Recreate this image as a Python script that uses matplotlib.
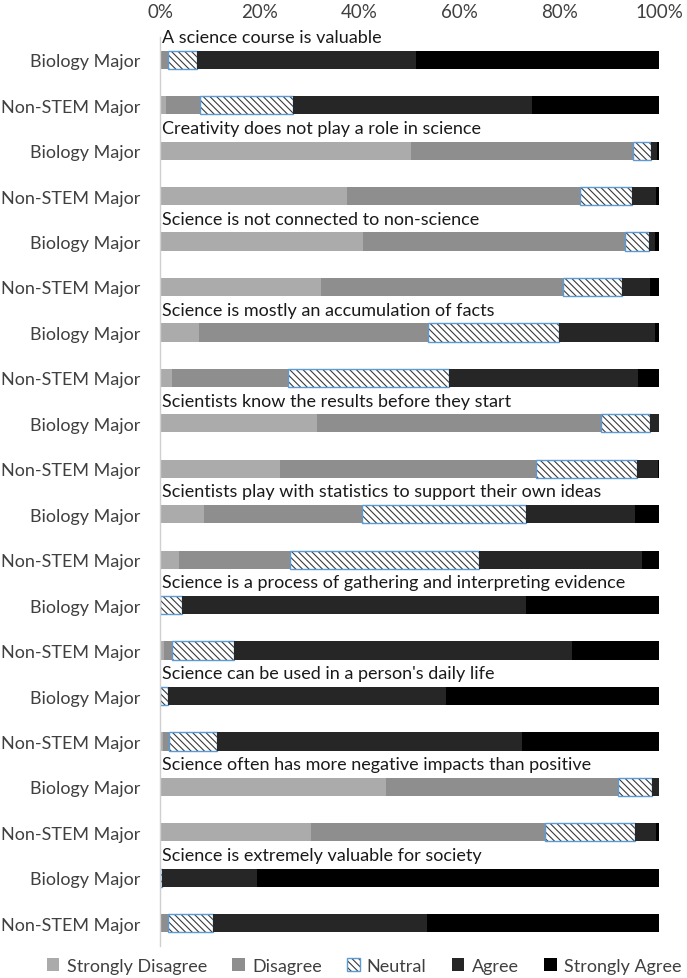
import matplotlib
matplotlib.use("Agg")
import matplotlib.pyplot as plt
from matplotlib.legend_handler import HandlerTuple
import numpy as np

plt.rcParams['font.family'] = ['Lato', 'DejaVu Sans']
plt.rcParams['hatch.linewidth'] = 0.8

# statements (one per pair of bars) and the two groups
statements = [
    "A science course is valuable",
    "Creativity does not play a role in science",
    "Science is not connected to non-science",
    "Science is mostly an accumulation of facts",
    "Scientists know the results before they start",
    "Scientists play with statistics to support their own ideas",
    "Science is a process of gathering and interpreting evidence",
    "Science can be used in a person's daily life",
    "Science often has more negative impacts than positive",
    "Science is extremely valuable for society",
]
groups = ["Biology Major", "Non-STEM Major"]

# percentages, one value per bar (Biology, Non-STEM for each statement, top to bottom)
strongly_disagree = [0.0, 1.2, 50.3, 37.5, 40.6, 32.3, 7.8, 2.5, 31.4, 24.0,
                     8.8, 3.9, 0.0, 0.8, 0.0, 0.7, 45.2, 30.2, 0.0, 0.0]
disagree = [1.7, 6.8, 44.4, 46.7, 52.6, 48.5, 46.0, 23.2, 56.9, 51.3,
            31.7, 22.2, 0.0, 1.7, 0.0, 1.1, 46.5, 47.0, 0.0, 1.7]
neutral = [5.8, 18.6, 3.7, 10.3, 4.7, 11.7, 26.2, 32.3, 9.9, 20.2,
           32.8, 37.8, 4.5, 12.3, 1.7, 9.6, 6.8, 18.0, 0.5, 8.9]
agree = [43.8, 47.9, 1.1, 4.9, 1.3, 5.7, 19.2, 37.7, 1.8, 4.2,
         21.9, 32.6, 68.8, 67.7, 55.7, 61.1, 1.5, 4.1, 18.9, 43.0]
strongly_agree = [48.7, 25.5, 0.5, 0.6, 0.8, 1.8, 0.8, 4.3, 0.0, 0.3,
                  4.8, 3.5, 26.7, 17.5, 42.6, 27.5, 0.0, 0.7, 80.6, 46.4]

labels = ["Strongly Disagree", "Disagree", "Neutral", "Agree", "Strongly Agree"]

fig = plt.figure(figsize=(6.87, 9.79), dpi=100)
ax = fig.add_axes([160 / 687, 1 - 947 / 979, 499 / 687, 909 / 979])

y = np.arange(len(strongly_disagree))
h = 0.4
sd = np.array(strongly_disagree)
d = np.array(disagree)
n = np.array(neutral)
a = np.array(agree)
sa = np.array(strongly_agree)

b_sd = ax.barh(y, sd, height=h, color='#ABABAB', linewidth=0)
b_d = ax.barh(y, d, left=sd, height=h, color='#8E8E8E', linewidth=0)
left_n = sd + d
b_n = ax.barh(y, n, left=left_n, height=h, color='white', hatch='\\\\\\\\\\',
              edgecolor='#3A3A3A', linewidth=0)
b_n_edge = ax.barh(y, n, left=left_n, height=h, fill=False,
                   edgecolor='#5B9BD5', linewidth=1.0)
b_a = ax.barh(y, a, left=left_n + n, height=h, color='#262626', linewidth=0)
b_sa = ax.barh(y, sa, left=left_n + n + a, height=h, color='#000000', linewidth=0)

# statement titles above each pair
for i, s in enumerate(statements):
    ax.text(0.5, 2 * i - 0.5, s, fontsize=13, ha='left', va='center', color='#1a1a1a')

ax.set_xlim(0, 100)
ax.set_ylim(len(y) - 0.5, -0.5)
ax.set_yticks(y)
ax.set_yticklabels([groups[i % 2] for i in y], fontsize=13, color='#404040')
ax.xaxis.tick_top()
ax.set_xticks(np.arange(0, 101, 20))
ax.set_xticklabels([f"{v}%" for v in range(0, 101, 20)], fontsize=13.5, color='#404040')
ax.tick_params(axis='x', length=0, pad=12)
ax.tick_params(axis='y', length=0, pad=14)
for sp in ['top', 'right', 'bottom']:
    ax.spines[sp].set_visible(False)
ax.spines['left'].set_color('#D0D0D0')
ax.spines['left'].set_linewidth(1.0)

handles = [b_sd, b_d, (b_n, b_n_edge), b_a, b_sa]
fig.legend(handles, labels, loc='center', bbox_to_anchor=(364 / 687, 1 - 967 / 979),
           ncol=5, frameon=False, fontsize=13, handlelength=0.7, handleheight=0.7,
           handletextpad=0.4, columnspacing=1.4, labelcolor='#404040',
           handler_map={tuple: HandlerTuple(ndivide=1)})

fig.savefig("out.png", dpi=100)
